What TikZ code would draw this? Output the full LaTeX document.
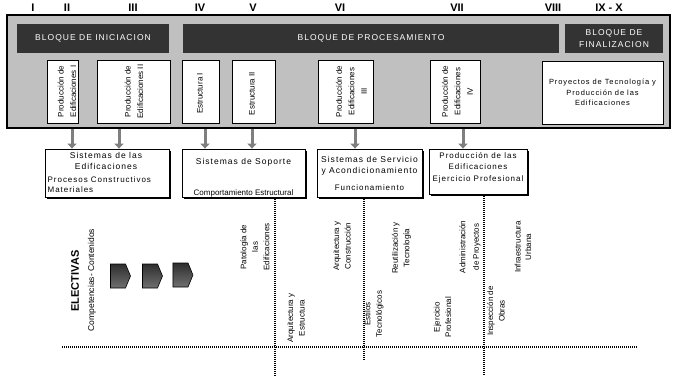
\documentclass[tikz,border=0pt]{standalone}
\usepackage{fontspec}
\setmainfont{Liberation Sans}
\newfontfamily\spacedfont[LetterSpace=12]{Liberation Sans}
\usepackage{xcolor}
\usepackage{tikz}
\usetikzlibrary{arrows.meta,shapes.symbols,shadows}
\definecolor{plFrame}{HTML}{C0C0C0}
\definecolor{plBlock}{HTML}{333333}
\definecolor{plArrow}{HTML}{7F7F7F}
\definecolor{plChevTop}{HTML}{2E2E2E}
\definecolor{plChevBot}{HTML}{707070}

\begin{document}
\begin{tikzpicture}[
    x=1pt,y=-1pt,
    font=\fontsize{8}{12.5}\selectfont,
    num/.style={font=\fontsize{11}{12}\selectfont\bfseries},
    frame/.style={draw=black,line width=1.5pt,fill=plFrame,inner sep=0pt},
    block/.style={fill=plBlock,text=white,inner sep=0pt,minimum height=29,align=center,
                  font=\spacedfont\fontsize{8.5}{11.5}\selectfont},
    course/.style={draw=black,line width=0.6pt,fill=white,inner sep=0pt,minimum height=63},
    vtxt/.style={rotate=90,align=center,inner sep=0pt},
    area/.style={draw=black,line width=0.8pt,fill=white,inner sep=0pt,
                 drop shadow={shadow xshift=1.5pt,shadow yshift=-1.5pt,fill=black,opacity=1}},
    atxt/.style={align=center,inner sep=0pt,font=\spacedfont\fontsize{8.5}{11}\selectfont},
    opt/.style={rotate=90,align=center,inner sep=0pt,font=\fontsize{8}{11.5}\selectfont},
    chev/.style={signal,signal to=east,signal pointer angle=135,draw=black,line width=0.6pt,
                 top color=plChevTop,bottom color=plChevBot,minimum width=20,minimum height=24,
                 inner sep=0pt},
    ar/.style={-{Triangle[width=9pt,length=5pt]},draw=plArrow,line width=3pt},
    dotline/.style={line width=1.3pt,dash pattern=on 1pt off 1pt}
  ]
    \fill[white] (0,0) rectangle (675,380);
    \useasboundingbox (0,0) rectangle (675,380);

    \node[num] (nI)    at (33,8)  {I};
    \node[num] (nII)   at (67,8)  {II};
    \node[num] (nIII)  at (133,8) {III};
    \node[num] (nIV)   at (200,8) {IV};
    \node[num] (nV)    at (253,8) {V};
    \node[num] (nVI)   at (340,8) {VI};
    \node[num] (nVII)  at (457,8) {VII};
    \node[num] (nVIII) at (553,8) {VIII};
    \node[num] (nIX)   at (609,8) {IX - X};

    \node[frame,minimum width=663,minimum height=113] (frame) at (338.5,71.5) {};

    \node[block,minimum width=152] (ini)  at (93,38.5)  {BLOQUE DE INICIACION};
    \node[block,minimum width=376] (proc) at (371,38.5) {BLOQUE DE PROCESAMIENTO};
    \node[block,minimum width=98]  (fin)  at (614,38.5) {BLOQUE DE\\FINALIZACION};

    \node[course,minimum width=31] (pe1) at (62.5,91.5)  {};
    \node[course,minimum width=73] (pe2) at (133.5,91.5) {};
    \node[course,minimum width=37] (es1) at (200.5,91.5) {};
    \node[course,minimum width=43] (es2) at (253.5,91.5) {};
    \node[course,minimum width=55] (pe3) at (345.5,91.5) {};
    \node[course,minimum width=50] (pe4) at (455,91.5)   {};
    \node[course,minimum width=121,align=center,font=\spacedfont\fontsize{7.5}{10.5}\selectfont]
         (pyt) at (602.5,92.5) {Proyectos de Tecnología y\\Producción de las\\Edificaciones};

    \node[vtxt] (pe1t) at (67,91.5)    {Producción de\\Edificaciones I};
    \node[vtxt] (pe2t) at (134,91.5)   {Producción de\\Edificaciones II};
    \node[vtxt] (es1t) at (200,93.5)   {Estructura I};
    \node[vtxt] (es2t) at (252,93.5)   {Estructura II};
    \node[vtxt] (pe3t) at (351.5,91.5) {Producción de\\Edificaciones\\III};
    \node[vtxt] (pe4t) at (457.5,91.5) {Producción de\\Edificaciones\\IV};

    \node[area,minimum width=124,minimum height=48] (sisA) at (107,173)   {};
    \node[area,minimum width=123,minimum height=48] (sisB) at (243.5,173) {};
    \node[area,minimum width=105,minimum height=48] (sisC) at (369.5,173) {};
    \node[area,minimum width=98,minimum height=45]  (sisD) at (478,171.5) {};

    \node[atxt] (sisAt) at (106,160.5) {Sistemas de las\\Edificaciones};
    \node[atxt,anchor=west,align=left,font=\spacedfont\fontsize{8}{10}\selectfont]
         (sisAb) at (47.5,185) {Procesos Constructivos\\Materiales};
    \node[atxt] (sisBt) at (243.5,162) {Sistemas de Soporte};
    \node[atxt,font=\fontsize{8}{10}\selectfont] (sisBb) at (243.5,193) {Comportamiento Estructural};
    \node[atxt] (sisCt) at (369.5,165.5) {Sistemas de Servicio\\y Acondicionamiento};
    \node[atxt,font=\spacedfont\fontsize{8}{10}\selectfont] (sisCb) at (369.5,188) {Funcionamiento};
    \node[atxt,font=\spacedfont\fontsize{8}{11.5}\selectfont]
         (sisDt) at (478,167.5) {Producción de las\\Edificaciones\\Ejercicio Profesional};

    \coordinate (colII)  at (72,0);
    \coordinate (colIII) at (119,0);
    \coordinate (colIV)  at (205,0);
    \coordinate (colV)   at (252,0);
    \coordinate (colVI)  at (355,0);
    \coordinate (colVII) at (463,0);
    \draw[ar] (colII |- frame.south)  -- (colII |- sisA.north);
    \draw[ar] (colIII |- frame.south) -- (colIII |- sisA.north);
    \draw[ar] (colIV |- frame.south)  -- (colIV |- sisB.north);
    \draw[ar] (colV |- frame.south)   -- (colV |- sisB.north);
    \draw[ar] (colVI |- frame.south)  -- (colVI |- sisC.north);
    \draw[ar] (colVII |- frame.south) -- (colVII |- sisD.north);

    \coordinate (dv1) at (275,377);
    \coordinate (dv2) at (364,360);
    \coordinate (dv3) at (484,375);
    \coordinate (dh1) at (62,347);
    \coordinate (dh2) at (637,347);
    \draw[dotline,shorten <=2pt] (dv1 |- sisB.south) -- (dv1);
    \draw[dotline,shorten <=2pt] (dv2 |- sisC.south) -- (dv2);
    \draw[dotline,shorten <=2pt] (dv3 |- sisD.south) -- (dv3);
    \draw[dotline] (dh1) -- (dh2);

    \node[rotate=90,font=\fontsize{11}{12}\selectfont\bfseries] (elec) at (75,281) {ELECTIVAS};
    \node[rotate=90,font=\fontsize{8.5}{10}\selectfont] (comp) at (92,280) {Competencias- Contenidos};
    \node[chev] (chv1) at (118,276)   {};
    \node[chev] (chv2) at (150,276)   {};
    \node[chev] (chv3) at (180.5,275) {};

    \node[opt] (pat)  at (255,247)   {Patología de\\las\\Edificaciones};
    \node[opt] (arqE) at (296,318)   {Arquitectura y\\Estructura};
    \node[opt] (arqC) at (342,246)   {Arquitectura y\\Construcción};
    \node[opt] (est)  at (374,314)   {Estilos\\Tecnológicos};
    \node[opt] (reu)  at (401.5,248) {Reutilización y\\Tecnología};
    \node[opt] (eje)  at (442.5,317) {Ejercicio\\Profesional};
    \node[opt,font=\fontsize{8}{13.5}\selectfont] (adm) at (470,247) {Administración\\de Proyectos};
    \node[opt] (ins)  at (496,311)   {Inspección de\\Obras};
    \node[opt,font=\fontsize{8}{10.5}\selectfont] (inf) at (523,247) {Infraestructura\\Urbana};
  \end{tikzpicture}
\end{document}
